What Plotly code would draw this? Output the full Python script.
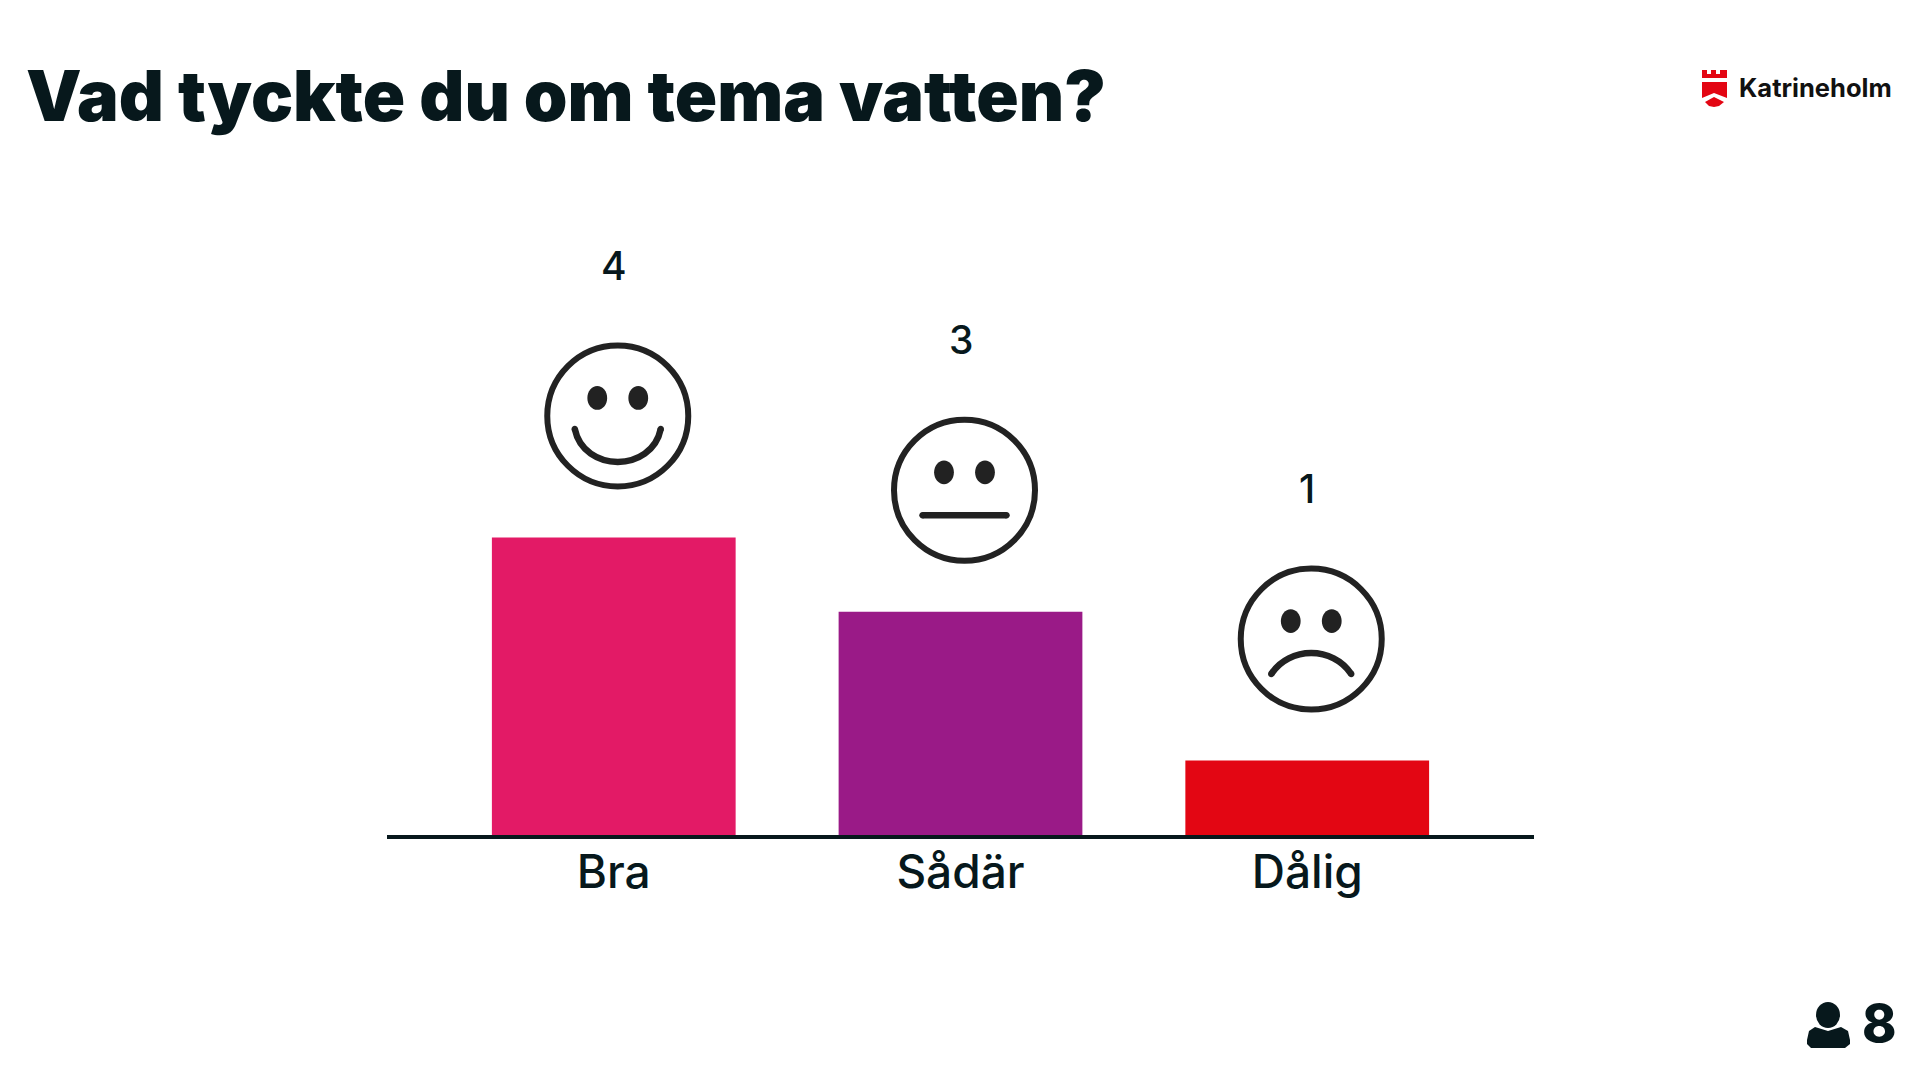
import plotly.graph_objects as go

title_text = 'Vad tyckte du om tema vatten?'
categories = ['Bra', 'Sådär', 'Dålig']
votes = [4, 3, 1]
bar_colors = ['#E31A66', '#9A1A87', '#E30613']
logo_text = 'Katrineholm'
respondents = '8'

INK = '#07181C'
FACE = '#222222'
FONT = 'Inter'
K = 0.5523  # bezier circle constant
MOUTH_W = 6.5


def ellipse_path(cx, cy, rx, ry):
    # arcs misbehave on pixel sized shapes, so use beziers (y is up here)
    return (f'M {cx - rx} {cy} '
            f'C {cx - rx} {cy + K * ry} {cx - K * rx} {cy + ry} {cx} {cy + ry} '
            f'C {cx + K * rx} {cy + ry} {cx + rx} {cy + K * ry} {cx + rx} {cy} '
            f'C {cx + rx} {cy - K * ry} {cx + K * rx} {cy - ry} {cx} {cy - ry} '
            f'C {cx - K * rx} {cy - ry} {cx - rx} {cy - K * ry} {cx - rx} {cy} Z')


def anchored(i, v, path, **kw):
    # pixel sized shape hanging off the top of a bar
    return dict(type='path', xref='x', yref='y', xsizemode='pixel', ysizemode='pixel',
                xanchor=i, yanchor=v, path=path, **kw)


# mouth end x, end y and control x, control y from the face centre, y up
mouths = [
    (43, -13, 34, -57),
    (42, -25, 20, -25),
    (40, -35, 22, -7),
]

fig = go.Figure()
fig.add_trace(go.Bar(x=[0, 1, 2], y=votes, width=0.703, marker_color=bar_colors,
                     marker_line_width=0, showlegend=False))

shapes = []
annotations = []
for i, v in enumerate(votes):
    # face sits about 122px above the bar, slightly right of centre
    cx, cy = 4, 121.5
    shapes.append(anchored(i, v, ellipse_path(cx, cy, 70.5, 70.5),
                           line=dict(color=FACE, width=6), fillcolor='rgba(0,0,0,0)'))
    for dx in (-20.5, 20.5):
        shapes.append(anchored(i, v, ellipse_path(cx + dx, cy + 18, 9.9, 11.9),
                               line=dict(width=0), fillcolor=FACE))
    ex, ey, qx, qy = mouths[i]
    shapes.append(anchored(i, v,
                           f'M {cx - ex} {cy + ey} C {cx - qx} {cy + qy} {cx + qx} {cy + qy} {cx + ex} {cy + ey}',
                           line=dict(color=FACE, width=MOUTH_W)))
    # round ends for the mouth
    for sx in (-1, 1):
        shapes.append(anchored(i, v, ellipse_path(cx + sx * ex, cy + ey, MOUTH_W / 2, MOUTH_W / 2),
                               line=dict(width=0), fillcolor=FACE))
    annotations.append(dict(x=i, y=v, xref='x', yref='y', text=str(v), showarrow=False,
                            yshift=272, font=dict(family=FONT, size=39, color=INK, weight=500)))

# title, logo and the respondent count
annotations.append(dict(x=24 / 1920, y=1 - 95 / 1080, xref='paper', yref='paper', xanchor='left',
                        yanchor='middle', text=title_text, showarrow=False,
                        font=dict(family=FONT, size=70, color=INK, weight=900)))
annotations.append(dict(x=1737 / 1920, y=1 - 87 / 1080, xref='paper', yref='paper', xanchor='left',
                        yanchor='middle', text=logo_text, showarrow=False,
                        font=dict(family=FONT, size=25.5, color='#111111', weight=700)))
annotations.append(dict(x=1879 / 1920, y=1 - 1023 / 1080, xref='paper', yref='paper', xanchor='center',
                        yanchor='middle', text=respondents, showarrow=False,
                        font=dict(family=FONT, size=52, color=INK, weight=800)))

px = dict(type='path', xref='paper', yref='paper', line=dict(width=0))


def page_path(points):
    return 'M ' + ' L '.join(f'{x / 1920} {1 - y / 1080}' for x, y in points) + ' Z'


# logo shield
shapes.append(dict(px, fillcolor='#E30613', path=page_path([
    (1702, 70), (1707, 70), (1707, 74), (1711, 74), (1711, 70), (1716, 70), (1716, 74),
    (1720, 74), (1720, 70), (1727, 70), (1727, 78), (1702, 78)])))
shapes.append(dict(px, fillcolor='#E30613', path=page_path([
    (1702, 82), (1727, 82), (1727, 98), (1714, 93), (1702, 98)])))
shapes.append(dict(px, fillcolor='#E30613', path=page_path([
    (1705, 102), (1714, 97), (1724, 102), (1719, 106), (1714, 107), (1709, 106)])))

# person icon
shapes.append(dict(type='circle', xref='paper', yref='paper', fillcolor=INK, line=dict(width=0),
                   x0=1816 / 1920, x1=1840 / 1920, y0=1 - 1028 / 1080, y1=1 - 1002 / 1080))
shapes.append(dict(px, fillcolor=INK, path=page_path([
    (1815, 1027), (1828, 1031), (1841, 1027), (1848, 1031), (1850, 1040), (1850, 1044),
    (1845, 1048), (1811, 1048), (1807, 1044), (1807, 1040), (1809, 1031)])))

fig.update_layout(
    width=1920, height=1080,
    margin=dict(l=0, r=0, t=0, b=0),
    paper_bgcolor='white', plot_bgcolor='white',
    shapes=shapes, annotations=annotations,
    xaxis=dict(domain=[387 / 1920, 1534 / 1920], range=[-0.654, 2.654], tickmode='array',
               tickvals=[0, 1, 2], ticktext=categories, showgrid=False, zeroline=False,
               showline=True, linecolor=INK, linewidth=4, ticks='', ticklabelstandoff=-6,
               tickfont=dict(family=FONT, size=46, color=INK, weight=500)),
    yaxis=dict(domain=[1 - 835 / 1080, 1], range=[0, 835 / 74.4], visible=False),
)

fig.write_html('out.html', config={'displayModeBar': False},
               post_script="document.body.style.margin='0';")
